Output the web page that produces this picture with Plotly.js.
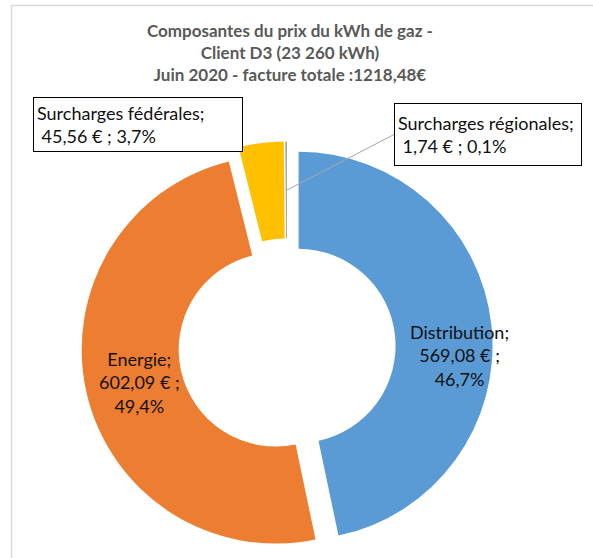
<!DOCTYPE html>
<html>
<head>
<meta charset="utf-8">
<script src="https://cdn.plot.ly/plotly-3.0.1.min.js"></script>
<style>html,body{margin:0;padding:0;background:#fff;}#chart{width:593px;height:558px;}</style>
</head>
<body>
<div id="chart"></div>
<script>
const titleLines = ["Composantes du prix du kWh de gaz -", "Client D3 (23 260 kWh)", "Juin 2020 - facture totale :1218,48€"];
const categories = ["Distribution", "Energie", "Surcharges fédérales", "Surcharges régionales"];
const values = [569.08, 602.09, 45.56, 1.74];
const colors = ["#5B9BD5", "#ED7D31", "#FFC000", "#A5A5A5"];

const total = values.reduce((a, b) => a + b, 0);
const fmt = v => v.toFixed(2).replace('.', ',');
const pct = v => (v / total * 100).toFixed(1).replace('.', ',') + '%';

const W = 593, H = 558;
const px = x => x / W;
const py = y => 1 - y / H;

const trace = {
  type: 'pie',
  labels: categories,
  values: values,
  marker: {colors: colors, line: {width: 0}},
  sort: false,
  direction: 'clockwise',
  rotation: 0,
  hole: 0.5,
  pull: 0.06,
  textinfo: 'none',
  hoverinfo: 'label+value+percent',
  showlegend: false,
  domain: {x: [px(81.4), px(492.6)], y: [py(552.6), py(141.4)]}
};

const labelFont = {family: 'Lato, "Open Sans", sans-serif', size: 18, color: '#111111'};

const annotations = [
  {
    text: categories[0] + ';<br>' + fmt(values[0]) + ' € ;<br>' + pct(values[0]),
    xref: 'paper', yref: 'paper', x: px(459), y: py(355), xanchor: 'center', yanchor: 'middle',
    showarrow: false, align: 'center', font: labelFont
  },
  {
    text: categories[1] + ';<br>' + fmt(values[1]) + ' € ;<br>' + pct(values[1]),
    xref: 'paper', yref: 'paper', x: px(139), y: py(382), xanchor: 'center', yanchor: 'middle',
    showarrow: false, align: 'center', font: labelFont
  },
  {
    text: categories[2] + ';<br>\u00a0' + fmt(values[2]) + ' € ; ' + pct(values[2]),
    xref: 'paper', yref: 'paper', x: px(138), y: py(124.5), xanchor: 'center', yanchor: 'middle',
    showarrow: false, align: 'left', width: 202, height: 47, borderpad: 3,
    bordercolor: '#000000', borderwidth: 1, bgcolor: '#ffffff', font: labelFont
  },
  {
    text: categories[3] + ';<br>\u00a0' + fmt(values[3]) + ' € ; ' + pct(values[3]),
    xref: 'paper', yref: 'paper', x: px(287), y: py(190),
    ax: 394 - 287, ay: 134.5 - 190, axref: 'pixel', ayref: 'pixel',
    xanchor: 'left', yanchor: 'middle',
    showarrow: true, arrowhead: 0, arrowwidth: 1, arrowcolor: '#A6A6A6', standoff: 0,
    align: 'left', width: 180, height: 55, borderpad: 3,
    bordercolor: '#000000', borderwidth: 1, bgcolor: '#ffffff', font: labelFont
  }
];

const layout = {
  width: W, height: H,
  margin: {l: 0, r: 0, t: 0, b: 0},
  paper_bgcolor: '#ffffff',
  title: {
    text: '<b>' + titleLines.join('<br>') + '</b>',
    font: {family: 'Lato, "Open Sans", sans-serif', size: 17, color: '#595959'},
    x: px(290), xanchor: 'center', xref: 'paper',
    y: py(37), yanchor: 'top', yref: 'paper'
  },
  shapes: [
    {type: 'line', xref: 'paper', yref: 'paper', x0: px(11), x1: 1.01, y0: py(5.5), y1: py(5.5), line: {color: '#D9D9D9', width: 1.5}},
    {type: 'line', xref: 'paper', yref: 'paper', x0: px(11.5), x1: px(11.5), y0: py(5), y1: -0.01, line: {color: '#D9D9D9', width: 1.5}}
  ],
  annotations: annotations
};

Plotly.newPlot('chart', [trace], layout, {displayModeBar: false, staticPlot: true});
</script>
</body>
</html>
